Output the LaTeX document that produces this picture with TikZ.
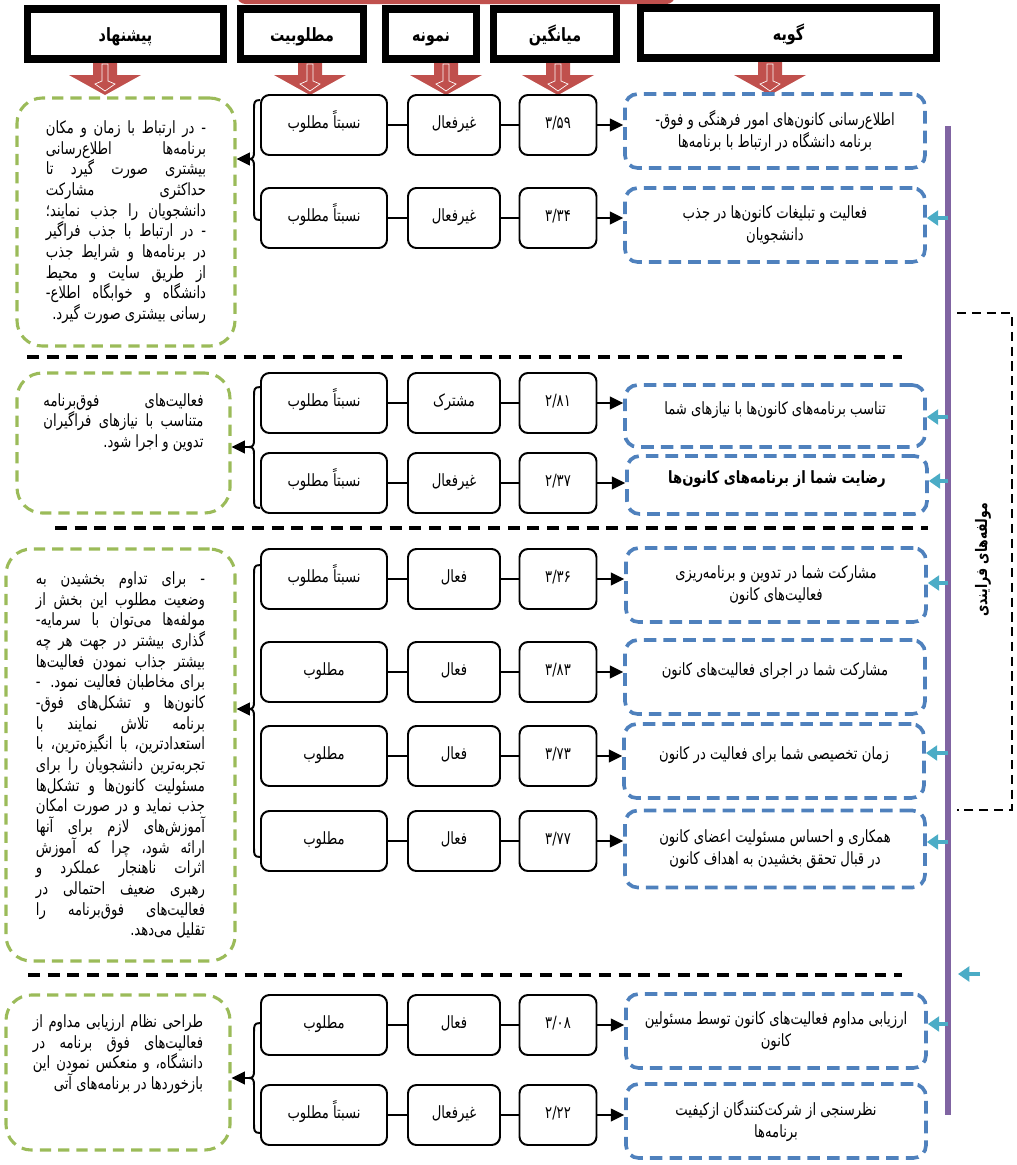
\documentclass[tikz,border=0pt]{standalone}
\usepackage{fontspec}
\usepackage{tikz}
\usetikzlibrary{arrows.meta}
\newfontfamily\fa[Script=Arabic, FakeStretch=0.78]{DejaVu Sans}
\TeXXeTstate=1
\definecolor{redC}{HTML}{C0504D}
\definecolor{blueC}{HTML}{4F81BD}
\definecolor{greenC}{HTML}{9BBB59}
\definecolor{purpleC}{HTML}{8064A2}
\definecolor{cyanC}{HTML}{4BACC6}
\newcommand\pxu{0.025cm}
% justified and last line of a right-to-left paragraph
\newcommand{\jrow}[1]{\hbox to\hsize{\beginR#1\endR}}
\newcommand{\lrow}[1]{\hbox to\hsize{\hfil\beginR#1\endR}}

\begin{document}
\begin{tikzpicture}[x=0.025cm, y=-0.025cm,
    every node/.style={font=\fa\fontsize{12}{15.5}\selectfont},
    head/.style={draw, line width=5pt, minimum height=50*\pxu,
      text height=11pt, text depth=1pt,
      font=\fa\bfseries\fontsize{13}{15}\selectfont},
    midbox/.style={draw, line width=1.4pt, rounded corners=6pt,
      minimum height=60*\pxu, inner sep=1pt, text height=9pt, text depth=4pt},
    desbox/.style={midbox, minimum width=126*\pxu},
    sambox/.style={midbox, minimum width=92*\pxu},
    meanbox/.style={midbox, minimum width=77*\pxu},
    itembox/.style={draw=blueC, line width=2.6pt, dash pattern=on 9pt off 5pt,
      rounded corners=9pt, minimum width=300*\pxu, align=center},
    oneline/.style={text depth=11pt},
    gbox/.style={draw=greenC, line width=2.2pt, dash pattern=on 8pt off 5pt,
      rounded corners=18pt, font=\fa\fontsize{12}{14.7}\selectfont},
    conn/.style={line width=1.4pt},
    arr/.style={conn, -{Triangle[length=9.5pt,width=9pt]}},
    cyanarr/.style={cyanC, line width=3pt, -{Triangle[length=8pt,width=10.5pt]}},
    sep/.style={line width=2.6pt, dash pattern=on 8.5pt off 5.5pt}]
  \useasboundingbox (0,0) rectangle (1017,1165);

  % Red bar above the header
  \fill[redC, rounded corners=6pt] (237,-20) rectangle (675,4);

  % Red block arrows under the header
  \foreach \x in {105,310,446,558,770} {
    \fill[redC] ({\x-12},56) -- ({\x+12},56) -- ({\x+12},75) -- ({\x+36},75)
      -- (\x,95) -- ({\x-36},75) -- ({\x-12},75) -- cycle;
    \draw[white, line width=0.5pt] ({\x-3},64) -- ({\x-3},81) -- ({\x-10},84)
      -- (\x,91) -- ({\x+10},84) -- ({\x+3},81) -- ({\x+3},64) -- cycle;
  }

  % Header
  \node[head, minimum width=196*\pxu] (h1) at (125.5,34) {پیشنهاد};
  \node[head, minimum width=123*\pxu] (h2) at (302,34) {مطلوبیت};
  \node[head, minimum width=91*\pxu] (h3) at (431,34) {نمونه};
  \node[head, minimum width=123*\pxu] (h4) at (555,34) {میانگین};
  \node[head, minimum width=296*\pxu] (h5) at (788.5,33) {گویه};

  % Separators between the groups
  \draw[sep] (27,357) -- (902,357);
  \draw[sep] (55,528) -- (928,528);
  \draw[sep] (28,975) -- (902,975);

  % Items
  \node[itembox, minimum height=74*\pxu] (b1) at (775,131)
    {\beginR اطلاع‌رسانی کانون‌های امور فرهنگی و فوق-\endR\\\beginR برنامه دانشگاه در ارتباط با برنامه‌ها\endR};
  \node[itembox, minimum height=74*\pxu] (b2) at (775,225)
    {\beginR فعالیت و تبلیغات کانون‌ها در جذب\endR\\\beginR دانشجویان\endR};
  \node[itembox, oneline, minimum height=62*\pxu] (b3) at (775,416)
    {\beginR تناسب برنامه‌های کانون‌ها با نیازهای شما\endR};
  \node[itembox, oneline, minimum height=58*\pxu] (b4) at (777,485)
    {\bfseries\beginR رضایت شما از برنامه‌های کانون‌ها\endR};
  \node[itembox, minimum height=74*\pxu] (b5) at (776,585)
    {\beginR مشارکت شما در تدوین و برنامه‌ریزی\endR\\\beginR فعالیت‌های کانون\endR};
  \node[itembox, oneline, minimum height=74*\pxu] (b6) at (775,677)
    {\beginR مشارکت شما در اجرای فعالیت‌های کانون\endR};
  \node[itembox, oneline, minimum height=74*\pxu] (b7) at (774,761)
    {\beginR زمان تخصیصی شما برای فعالیت در کانون\endR};
  \node[itembox, minimum height=77*\pxu] (b8) at (775,849)
    {\beginR همکاری و احساس مسئولیت اعضای کانون\endR\\\beginR در قبال تحقق بخشیدن به اهداف کانون\endR};
  \node[itembox, minimum height=74*\pxu] (b9) at (776,1031)
    {\beginR ارزیابی مداوم فعالیت‌های کانون توسط مسئولین\endR\\\beginR کانون\endR};
  \node[itembox, minimum height=74*\pxu] (b10) at (776,1121)
    {\beginR نظرسنجی از شرکت‌کنندگان ازکیفیت\endR\\\beginR برنامه‌ها\endR};

  % Desirability, sample and mean of each item
  \foreach \i/\y/\dtxt/\stxt/\mtxt in {
      1/125/{نسبتاً مطلوب}/غیرفعال/{۳/۵۹},
      2/218/{نسبتاً مطلوب}/غیرفعال/{۳/۳۴},
      3/403/{نسبتاً مطلوب}/مشترک/{۲/۸۱},
      4/483/{نسبتاً مطلوب}/غیرفعال/{۲/۳۷},
      5/579/{نسبتاً مطلوب}/فعال/{۳/۳۶},
      6/672/مطلوب/فعال/{۳/۸۳},
      7/756/مطلوب/فعال/{۳/۷۳},
      8/841/مطلوب/فعال/{۳/۷۷},
      9/1025/مطلوب/فعال/{۳/۰۸},
      10/1115/{نسبتاً مطلوب}/غیرفعال/{۲/۲۲}} {
    \node[desbox] (d\i) at (324,\y) {\beginR\dtxt\endR};
    \node[sambox] (s\i) at (454,\y) {\stxt};
    \node[meanbox] (m\i) at (558,\y) {\mtxt};
    \draw[conn] (d\i) -- (s\i);
    \draw[conn] (s\i) -- (m\i);
    \draw[arr] (m\i) -- (b\i.west |- m\i);
  }

  % Suggestions
  \node[gbox, minimum width=218*\pxu, minimum height=248*\pxu] (g1) at (126,222)
    {\vbox{\hsize=4cm
    \jrow{- در ارتباط با زمان و مکان}
    \jrow{برنامه‌ها اطلاع‌رسانی}
    \jrow{بیشتری صورت گیرد تا}
    \jrow{حداکثری مشارکت}
    \jrow{دانشجویان را جذب نمایند؛}
    \jrow{- در ارتباط با جذب فراگیر}
    \jrow{در برنامه‌ها و شرایط جذب}
    \jrow{از طریق سایت و محیط}
    \jrow{دانشگاه و خوابگاه اطلاع-}
    \lrow{رسانی بیشتری صورت گیرد.}}};
  \node[gbox, minimum width=213*\pxu, minimum height=140*\pxu] (g2) at (123.5,443)
    {\vbox{\hsize=4cm
    \jrow{فعالیت‌های فوق‌برنامه}
    \jrow{متناسب با نیازهای فراگیران}
    \lrow{تدوین و اجرا شود.}\vskip29pt}};
  \node[gbox, minimum width=229*\pxu, minimum height=412*\pxu] (g3) at (120.5,755)
    {\vbox{\hsize=4.225cm
    \jrow{- برای تداوم بخشیدن به}
    \jrow{وضعیت مطلوب این بخش از}
    \jrow{مولفه‌ها می‌توان با سرمایه-}
    \jrow{گذاری بیشتر در جهت هر چه}
    \jrow{بیشتر جذاب نمودن فعالیت‌ها}
    \jrow{برای مخاطبان فعالیت نمود. -}
    \jrow{کانون‌ها و تشکل‌های فوق-}
    \jrow{برنامه تلاش نمایند با}
    \jrow{استعدادترین، با انگیزه‌ترین، با}
    \jrow{تجربه‌ترین دانشجویان را برای}
    \jrow{مسئولیت کانون‌ها و تشکل‌ها}
    \jrow{جذب نماید و در صورت امکان}
    \jrow{آموزش‌های لازم برای آنها}
    \jrow{ارائه شود، چرا که آموزش}
    \jrow{اثرات ناهنجار عملکرد و}
    \jrow{رهبری ضعیف احتمالی در}
    \jrow{فعالیت‌های فوق‌برنامه را}
    \lrow{تقلیل می‌دهد.}}};
  \node[gbox, minimum width=224*\pxu, minimum height=155*\pxu] (g4) at (118,1072.5)
    {\vbox{\hsize=4.25cm
    \jrow{طراحی نظام ارزیابی مداوم از}
    \jrow{فعالیت‌های فوق برنامه در}
    \jrow{دانشگاه، و منعکس نمودن این}
    \lrow{بازخوردها در برنامه‌های آتی}\vskip26pt}};

  % Braces from the desirability boxes to the suggestions
  \foreach \a/\z/\g/\t/\mid/\b in {1/2/1/100/159/220, 3/4/2/387/447/508,
      5/8/3/565/709/857, 9/10/4/1023/1078/1133} {
    \coordinate (kt\g) at (0,\t);
    \coordinate (kb\g) at (0,\b);
    \coordinate (k\g) at (249,\mid);
    \draw[conn] (d\a.west |- kt\g) .. controls +(-6,0) and +(0,-6) .. (254,{\t+9})
      -- (254,{\mid-7}) .. controls +(0,5) and +(4,0) .. (k\g)
      .. controls +(4,0) and +(0,-5) .. (254,{\mid+7})
      -- (254,{\b-9}) .. controls +(0,6) and +(-6,0) .. (d\z.west |- kb\g);
    \draw[arr] (k\g) -- (g\g.east |- k\g);
  }

  % Process components
  \draw[purpleC, line width=4.3pt] (948,126) -- (948,1115);
  \foreach \i/\y in {2/218, 3/417, 4/481, 5/583, 7/753, 8/842, 9/1024} {
    \coordinate (p\i) at (948,\y);
    \draw[cyanarr] (p\i) -- (b\i.east |- p\i);
  }
  \coordinate (sa) at (980,974);
  \coordinate (sb) at (958,974);
  \draw[cyanarr] (sa) -- (sb);

  \draw[line width=1.7pt, dash pattern=on 6.5pt off 4pt]
    (957,313) -- (1012,313) -- (1012,810) -- (957,810);
  \node[rotate=90, font=\fa\bfseries\fontsize{11.3}{13}\selectfont] (lab) at (983,560)
    {\beginR مولفه‌های فرایندی\endR};

\end{tikzpicture}
\end{document}
